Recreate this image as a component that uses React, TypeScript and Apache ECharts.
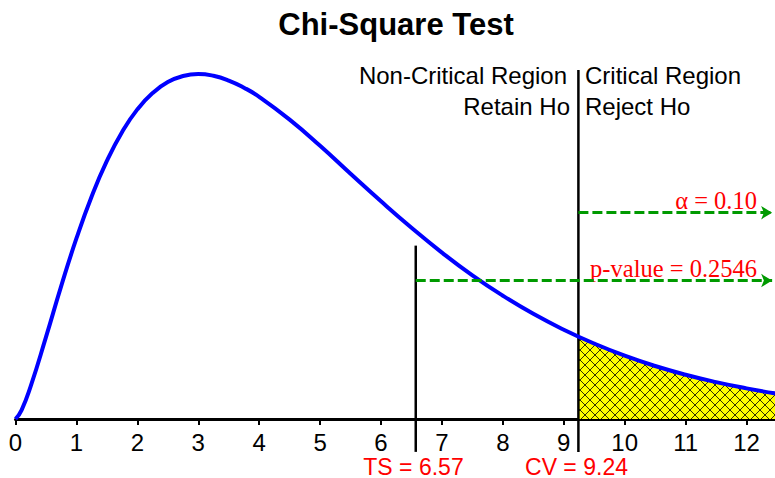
import React, { useEffect, useRef } from 'react';
import * as echarts from 'echarts';

// Chi-square density curve (df = 5)
const curveX = [0, 0.1, 0.25, 0.5, 0.75, 1, 1.25, 1.5, 1.75, 2, 2.25, 2.5, 2.75, 3, 3.25, 3.5, 3.75, 4, 4.5, 5, 5.5, 6, 6.5, 7, 7.5, 8, 8.5, 9, 9.5, 10, 10.5, 11, 11.5, 12, 12.5];
const curveY = [0, 0.004, 0.0147, 0.0366, 0.0594, 0.0807, 0.0995, 0.1154, 0.1283, 0.1384, 0.1457, 0.1506, 0.1533, 0.1542, 0.1534, 0.1513, 0.1481, 0.144, 0.1338, 0.1221, 0.1096, 0.0973, 0.0855, 0.0744, 0.0642, 0.0551, 0.047, 0.0399, 0.0337, 0.0283, 0.0237, 0.0198, 0.0165, 0.0137, 0.0113];

// Critical region (shaded)
const critX = [9.24, 9.5, 10, 10.5, 11, 11.5, 12, 12.5];
const critY = [0.0368, 0.0337, 0.0283, 0.0237, 0.0198, 0.0165, 0.0137, 0.0113];

// Test values
const TS = 6.57;
const CV = 9.24;
const alphaText = 'α = 0.10';
const pText = 'p-value = 0.2546';

// Annotation levels (data units)
const tsLineTop = 0.0775;
const cvLineTop = 0.156;
const lineBottom = -0.0147;
const alphaArrowY = 0.0922;
const pArrowY = 0.0619;
const arrowEnd = 12.42;

const xTicks = [0, 1, 2, 3, 4, 5, 6, 7, 8, 9, 10, 11, 12];

function makePattern(): HTMLCanvasElement {
  const c = document.createElement('canvas');
  c.width = 10;
  c.height = 10;
  const ctx = c.getContext('2d')!;
  ctx.fillStyle = '#ffff00';
  ctx.fillRect(0, 0, 10, 10);
  ctx.strokeStyle = '#333300';
  ctx.lineWidth = 1;
  ctx.beginPath();
  ctx.moveTo(0, 0);
  ctx.lineTo(10, 10);
  ctx.moveTo(10, 0);
  ctx.lineTo(0, 10);
  ctx.stroke();
  return c;
}

export default function App() {
  const ref = useRef<HTMLDivElement>(null);
  useEffect(() => {
    if (!ref.current) return;
    const chart = echarts.init(ref.current, undefined, { renderer: 'svg' });
    const sans = '"Liberation Sans", Arial, sans-serif';
    const serif = '"Liberation Serif", "Times New Roman", serif';
    const pattern = makePattern();
    chart.setOption({
      animation: false,
      grid: { left: 15.5, right: -2, top: 27.5, bottom: 59, containLabel: false, outerBoundsMode: 'none' },
      xAxis: {
        type: 'value',
        min: 0,
        max: 12.5,
        interval: 1,
        axisLine: { show: true, onZero: false, lineStyle: { color: '#000', width: 3 } },
        axisTick: { show: true, length: 6, lineStyle: { color: '#000', width: 2 } },
        axisLabel: {
          show: true,
          color: '#000',
          fontSize: 24,
          lineHeight: 20,
          fontFamily: sans,
          margin: 13.5,
          showMaxLabel: false,
          formatter: (v: number) => (xTicks.indexOf(v) >= 0 ? String(v) : ''),
        },
        splitLine: { show: false },
      },
      yAxis: {
        type: 'value',
        min: 0,
        max: 0.175,
        show: false,
        splitLine: { show: false },
      },
      series: [
        {
          type: 'line',
          data: critX.map((x, i) => [x, critY[i]]),
          smooth: true,
          symbol: 'none',
          lineStyle: { width: 0 },
          areaStyle: { color: { image: pattern, repeat: 'repeat' }, opacity: 1 },
          z: 1,
        },
        {
          type: 'line',
          data: [[TS, lineBottom], [TS, tsLineTop]],
          symbol: 'none',
          clip: false,
          lineStyle: { color: '#000', width: 2.5 },
          z: 2,
        },
        {
          type: 'line',
          data: [[CV, lineBottom], [CV, cvLineTop]],
          symbol: 'none',
          clip: false,
          lineStyle: { color: '#000', width: 2.5 },
          z: 2,
        },
        {
          type: 'line',
          data: curveX.map((x, i) => [x, curveY[i]]),
          smooth: true,
          symbol: 'none',
          lineStyle: { color: '#0000ff', width: 4 },
          z: 3,
          markLine: {
            silent: true,
            symbol: ['none', 'arrow'],
            symbolSize: [10, 11],
            label: { show: false },
            lineStyle: { color: '#009a00', width: 3, type: [10, 4] },
            data: [
              [{ coord: [CV, alphaArrowY] }, { coord: [arrowEnd, alphaArrowY] }],
              [{ coord: [TS, pArrowY] }, { coord: [arrowEnd, pArrowY] }],
            ],
          },
        },
      ],
      graphic: [
        { type: 'text', x: 396, y: 24, style: { text: 'Chi-Square Test', fontSize: 31, fontWeight: 'bold', fontFamily: sans, fill: '#000', align: 'center', verticalAlign: 'middle' } },
        { type: 'text', x: 567, y: 75, style: { text: 'Non-Critical Region', fontSize: 24, fontFamily: sans, fill: '#000', align: 'right', verticalAlign: 'middle' } },
        { type: 'text', x: 585, y: 75, style: { text: 'Critical Region', fontSize: 24, fontFamily: sans, fill: '#000', align: 'left', verticalAlign: 'middle' } },
        { type: 'text', x: 570, y: 106, style: { text: 'Retain Ho', fontSize: 24, fontFamily: sans, fill: '#000', align: 'right', verticalAlign: 'middle' } },
        { type: 'text', x: 585, y: 106, style: { text: 'Reject Ho', fontSize: 24, fontFamily: sans, fill: '#000', align: 'left', verticalAlign: 'middle' } },
        { type: 'text', x: 757, y: 200, style: { text: alphaText, fontSize: 24.5, fontFamily: serif, fill: '#ff0000', align: 'right', verticalAlign: 'middle' } },
        { type: 'text', x: 757, y: 268, style: { text: pText, fontSize: 24.5, fontFamily: serif, fill: '#ff0000', align: 'right', verticalAlign: 'middle' } },
        { type: 'text', x: 413.5, y: 466.5, style: { text: 'TS = ' + TS.toFixed(2), fontSize: 23, lineHeight: 20, fontFamily: sans, fill: '#ff0000', align: 'center', verticalAlign: 'middle' } },
        { type: 'text', x: 576.5, y: 466.5, style: { text: 'CV = ' + CV.toFixed(2), fontSize: 23, lineHeight: 20, fontFamily: sans, fill: '#ff0000', align: 'center', verticalAlign: 'middle' } },
      ],
    });
    return () => chart.dispose();
  }, []);
  return (
    <div
      ref={ref}
      style={{ position: 'fixed', left: 0, top: 0, width: 775, height: 478, background: '#fff' }}
    />
  );
}
